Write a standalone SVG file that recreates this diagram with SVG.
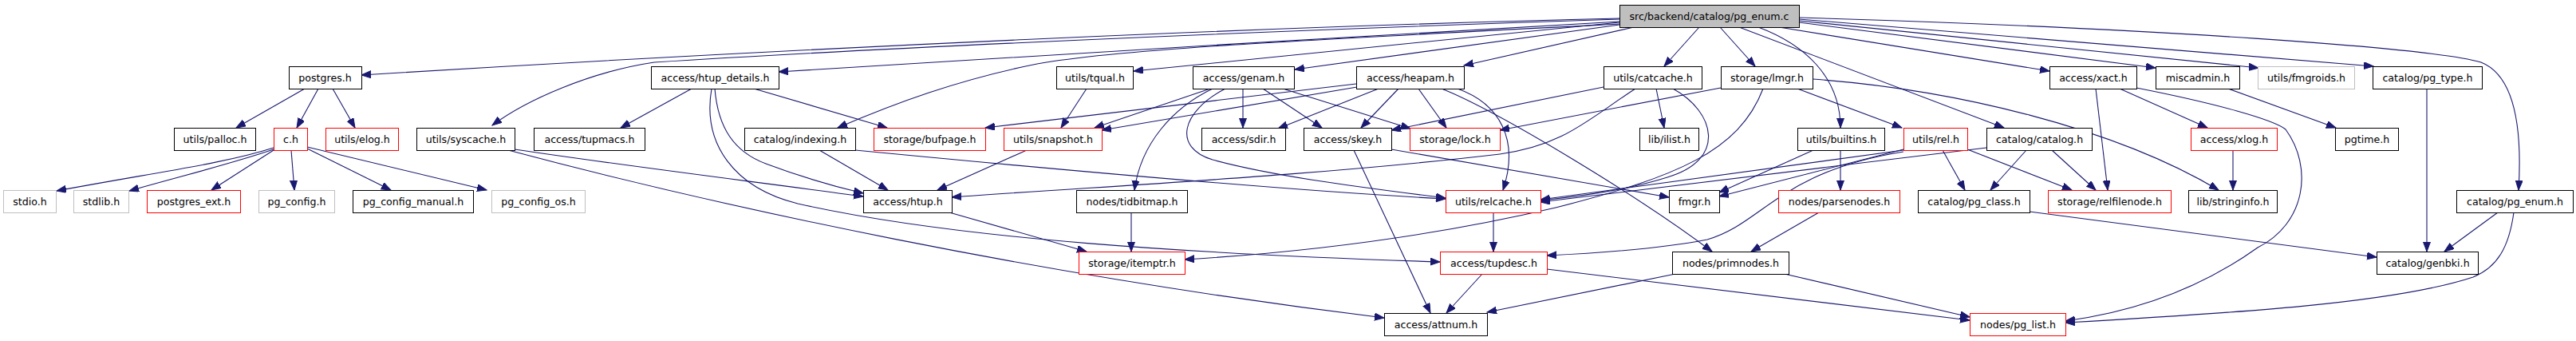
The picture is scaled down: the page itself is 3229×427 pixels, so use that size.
<svg xmlns="http://www.w3.org/2000/svg" width="3229" height="427" viewBox="0 0 3229 427">
<style>
.node rect{fill:#fff;stroke:#000;stroke-width:1}
.node.red rect{stroke:#ff0000}
.node.gray rect{stroke:#bfbfbf}
.node.root rect{fill:#bfbfbf;stroke:#000}
.node text{font-family:"DejaVu Sans",sans-serif;font-size:12.6px;fill:#000;text-anchor:middle}
#edges path{fill:none;stroke:#191970;stroke-width:1.1;marker-end:url(#arr)}
</style>
<defs>
<marker id="arr" markerUnits="userSpaceOnUse" markerWidth="14" markerHeight="11" refX="12" refY="4.5" orient="auto">
<path d="M0,0 L12,4.5 L0,9 Z" fill="#191970" stroke="#191970" stroke-width="1"/>
</marker>
</defs>
<rect width="3229" height="427" fill="#fff"/>
<g id="edges">
<!-- root -->
<path d="M2030,23 C1600,33 1000,60 453,94"/>
<path d="M2030,24 C1600,38 1100,60 820,78 C740,90 660,125 617,157"/>
<path d="M2030,27 C1700,45 1300,70 976,90"/>
<path d="M2030,30 C1600,52 1400,62 1300,80 C1200,100 1120,130 1050,160"/>
<path d="M2030,28 L1421,89"/>
<path d="M2030,31 L1623,87"/>
<path d="M2048,34 L1835,82"/>
<path d="M2130,34 L2086,83"/>
<path d="M2156,34 L2200,83"/>
<path d="M2204,34 C2260,55 2307,95 2307,160"/>
<path d="M2180,34 L2512,160"/>
<path d="M2230,34 L2569,89"/>
<path d="M2255,28 L2702,85"/>
<path d="M2255,26 L2831,85"/>
<path d="M2255,24 L2975,83"/>
<path d="M2255,22 C2700,35 3050,60 3110,78 C3145,92 3163,140 3157,238"/>
<!-- postgres.h -->
<path d="M382,111 L296,160"/>
<path d="M399,111 L372,160"/>
<path d="M417,111 L445,160"/>
<!-- c.h -->
<path d="M343,185 C280,205 200,215 71,239"/>
<path d="M343,187 C290,205 240,217 162,239"/>
<path d="M343,188 L265,238"/>
<path d="M365,188 L369,238"/>
<path d="M385,186 L490,238"/>
<path d="M385,184 L610,238"/>
<!-- syscache -->
<path d="M645,187 C800,210 950,228 1082,246"/>
<path d="M637,188 C900,258 1300,345 1735,398"/>
<!-- htup_details -->
<path d="M867,111 L778,160"/>
<path d="M896,111 C900,160 920,190 960,205 C1000,220 1040,232 1082,242"/>
<path d="M892,111 C880,180 920,235 1000,255 C1200,300 1500,318 1805,328"/>
<path d="M945,111 L1112,160"/>
<!-- indexing -->
<path d="M1027,188 L1113,238"/>
<path d="M1072,188 C1300,210 1600,238 1812,249"/>
<!-- tqual -->
<path d="M1362,111 L1330,160"/>
<!-- genam -->
<path d="M1517,111 L1372,160"/>
<path d="M1520,111 C1470,135 1430,180 1422,238"/>
<path d="M1536,111 C1480,140 1470,185 1520,200 C1600,222 1720,236 1812,248"/>
<path d="M1558,111 L1558,160"/>
<path d="M1583,111 L1657,160"/>
<path d="M1608,111 L1768,161"/>
<!-- heapam -->
<path d="M1700,105 L1235,160"/>
<path d="M1701,109 L1381,163"/>
<path d="M1728,111 L1602,161"/>
<path d="M1753,111 L1706,160"/>
<path d="M1778,111 L1813,160"/>
<path d="M1827,111 C1880,130 1905,175 1884,238"/>
<path d="M1807,111 C1880,140 2060,250 2146,315"/>
<!-- catcache -->
<path d="M2076,111 L2086,160"/>
<path d="M2010,109 L1744,163"/>
<path d="M2050,111 C1990,150 1960,182 1880,193 C1650,220 1400,232 1193,247"/>
<path d="M2097,111 C2150,140 2165,200 2090,222 C2040,238 1980,246 1931,251"/>
<!-- lmgr -->
<path d="M2157,110 L1880,163"/>
<path d="M2210,111 C2180,190 2100,222 1950,260 C1800,295 1650,315 1485,325"/>
<path d="M2253,111 L2384,160"/>
<path d="M2272,99 C2450,112 2650,160 2781,238"/>
<!-- builtins -->
<path d="M2273,188 L2155,241"/>
<path d="M2307,188 L2307,238"/>
<!-- rel.h -->
<path d="M2386,187 L2155,246"/>
<path d="M2386,188 L1931,250"/>
<path d="M2386,190 C2230,215 2210,280 2140,300 C2080,312 2000,317 1939,320"/>
<path d="M2435,188 L2463,238"/>
<path d="M2466,187 L2597,238"/>
<!-- catalog.h -->
<path d="M2540,188 L2495,238"/>
<path d="M2572,188 L2627,238"/>
<path d="M2490,185 L1931,253"/>
<!-- xact -->
<path d="M2627,111 L2642,238"/>
<path d="M2657,111 L2767,160"/>
<path d="M2678,110 C2780,130 2850,150 2865,162 C2900,210 2890,280 2830,310 C2760,360 2680,390 2589,402"/>
<!-- miscadmin -->
<path d="M2793,111 L2928,160"/>
<!-- xlog -->
<path d="M2799,188 L2799,238"/>
<!-- pg_class -->
<path d="M2544,265 L2979,322"/>
<!-- pg_type -->
<path d="M3042,111 L3042,315"/>
<!-- pg_enum.h -->
<path d="M3131,266 L3064,315"/>
<path d="M3151,266 C3145,310 3130,335 3100,347 C3000,380 2800,392 2589,404"/>
<!-- parsenodes -->
<path d="M2280,266 L2195,315"/>
<!-- tidbitmap -->
<path d="M1418,266 L1418,315"/>
<!-- htup -->
<path d="M1190,266 L1362,315"/>
<!-- snapshot -->
<path d="M1287,188 L1175,238"/>
<!-- skey -->
<path d="M1697,188 L1793,392"/>
<path d="M1744,187 L2092,247"/>
<!-- relcache -->
<path d="M1872,266 L1872,315"/>
<!-- tupdesc -->
<path d="M1858,343 L1813,392"/>
<path d="M1939,337 L2469,401"/>
<!-- primnodes -->
<path d="M2100,343 L1864,391"/>
<path d="M2237,343 L2469,397"/>
</g>
<g id="n_root" class="node root"><rect x="2030.5" y="6.5" width="225" height="28"/><text x="2142.5" y="25">src/backend/catalog/pg_enum.c</text></g>
<g id="n_postgres_h" class="node"><rect x="362.5" y="83.5" width="91" height="28"/><text x="407.5" y="102">postgres.h</text></g>
<g id="n_utils_palloc_h" class="node"><rect x="218.5" y="160.5" width="102" height="28"/><text x="269.5" y="179">utils/palloc.h</text></g>
<g id="n_c_h" class="node red"><rect x="343.5" y="160.5" width="42" height="28"/><text x="364.5" y="179">c.h</text></g>
<g id="n_utils_elog_h" class="node red"><rect x="408.5" y="160.5" width="91" height="28"/><text x="454" y="179">utils/elog.h</text></g>
<g id="n_stdio_h" class="node gray"><rect x="4.5" y="238.5" width="66" height="28"/><text x="37.5" y="257">stdio.h</text></g>
<g id="n_stdlib_h" class="node gray"><rect x="92.5" y="238.5" width="69" height="28"/><text x="127" y="257">stdlib.h</text></g>
<g id="n_postgres_ext_h" class="node red"><rect x="184.5" y="238.5" width="117" height="28"/><text x="243" y="257">postgres_ext.h</text></g>
<g id="n_pg_config_h" class="node gray"><rect x="324.5" y="238.5" width="95" height="28"/><text x="372" y="257">pg_config.h</text></g>
<g id="n_pg_config_manual_h" class="node"><rect x="442.5" y="238.5" width="151" height="28"/><text x="518" y="257">pg_config_manual.h</text></g>
<g id="n_pg_config_os_h" class="node gray"><rect x="616.5" y="238.5" width="117" height="28"/><text x="675" y="257">pg_config_os.h</text></g>
<g id="n_utils_syscache_h" class="node"><rect x="522.5" y="160.5" width="123" height="28"/><text x="584" y="179">utils/syscache.h</text></g>
<g id="n_access_tupmacs_h" class="node"><rect x="669.5" y="160.5" width="139" height="28"/><text x="739" y="179">access/tupmacs.h</text></g>
<g id="n_access_htup_details_h" class="node"><rect x="816.5" y="83.5" width="160" height="28"/><text x="896.5" y="102">access/htup_details.h</text></g>
<g id="n_catalog_indexing_h" class="node"><rect x="933.5" y="160.5" width="139" height="28"/><text x="1003" y="179">catalog/indexing.h</text></g>
<g id="n_storage_bufpage_h" class="node red"><rect x="1095.5" y="160.5" width="140" height="28"/><text x="1165.5" y="179">storage/bufpage.h</text></g>
<g id="n_access_htup_h" class="node"><rect x="1082.5" y="238.5" width="111" height="28"/><text x="1138" y="257">access/htup.h</text></g>
<g id="n_utils_tqual_h" class="node"><rect x="1324.5" y="83.5" width="96" height="28"/><text x="1372.5" y="102">utils/tqual.h</text></g>
<g id="n_access_genam_h" class="node"><rect x="1495.5" y="83.5" width="127" height="28"/><text x="1559" y="102">access/genam.h</text></g>
<g id="n_utils_snapshot_h" class="node red"><rect x="1258.5" y="160.5" width="123" height="28"/><text x="1320" y="179">utils/snapshot.h</text></g>
<g id="n_access_sdir_h" class="node"><rect x="1506.5" y="160.5" width="105" height="28"/><text x="1559" y="179">access/sdir.h</text></g>
<g id="n_nodes_tidbitmap_h" class="node"><rect x="1349.5" y="238.5" width="139" height="28"/><text x="1419" y="257">nodes/tidbitmap.h</text></g>
<g id="n_storage_itemptr_h" class="node red"><rect x="1352.5" y="315.5" width="133" height="28"/><text x="1419" y="334">storage/itemptr.h</text></g>
<g id="n_access_heapam_h" class="node"><rect x="1700.5" y="83.5" width="135" height="28"/><text x="1768" y="102">access/heapam.h</text></g>
<g id="n_access_skey_h" class="node"><rect x="1634.5" y="160.5" width="110" height="28"/><text x="1689.5" y="179">access/skey.h</text></g>
<g id="n_storage_lock_h" class="node red"><rect x="1767.5" y="160.5" width="113" height="28"/><text x="1824" y="179">storage/lock.h</text></g>
<g id="n_utils_relcache_h" class="node red"><rect x="1812.5" y="238.5" width="119" height="28"/><text x="1872" y="257">utils/relcache.h</text></g>
<g id="n_access_tupdesc_h" class="node red"><rect x="1805.5" y="315.5" width="134" height="28"/><text x="1872.5" y="334">access/tupdesc.h</text></g>
<g id="n_access_attnum_h" class="node"><rect x="1735.5" y="392.5" width="129" height="28"/><text x="1800" y="411">access/attnum.h</text></g>
<g id="n_utils_catcache_h" class="node"><rect x="2010.5" y="83.5" width="123" height="28"/><text x="2072" y="102">utils/catcache.h</text></g>
<g id="n_storage_lmgr_h" class="node"><rect x="2157.5" y="83.5" width="115" height="28"/><text x="2215" y="102">storage/lmgr.h</text></g>
<g id="n_lib_ilist_h" class="node"><rect x="2055.5" y="160.5" width="74" height="28"/><text x="2092.5" y="179">lib/ilist.h</text></g>
<g id="n_utils_builtins_h" class="node"><rect x="2253.5" y="160.5" width="109" height="28"/><text x="2308" y="179">utils/builtins.h</text></g>
<g id="n_utils_rel_h" class="node red"><rect x="2386.5" y="160.5" width="80" height="28"/><text x="2426.5" y="179">utils/rel.h</text></g>
<g id="n_fmgr_h" class="node"><rect x="2092.5" y="238.5" width="63" height="28"/><text x="2124" y="257">fmgr.h</text></g>
<g id="n_nodes_parsenodes_h" class="node red"><rect x="2229.5" y="238.5" width="152" height="28"/><text x="2305.5" y="257">nodes/parsenodes.h</text></g>
<g id="n_catalog_pg_class_h" class="node"><rect x="2404.5" y="238.5" width="140" height="28"/><text x="2474.5" y="257">catalog/pg_class.h</text></g>
<g id="n_nodes_primnodes_h" class="node"><rect x="2096.5" y="315.5" width="146" height="28"/><text x="2169.5" y="334">nodes/primnodes.h</text></g>
<g id="n_access_xact_h" class="node"><rect x="2569.5" y="83.5" width="109" height="28"/><text x="2624" y="102">access/xact.h</text></g>
<g id="n_miscadmin_h" class="node"><rect x="2702.5" y="83.5" width="105" height="28"/><text x="2755" y="102">miscadmin.h</text></g>
<g id="n_catalog_catalog_h" class="node"><rect x="2490.5" y="160.5" width="132" height="28"/><text x="2556.5" y="179">catalog/catalog.h</text></g>
<g id="n_access_xlog_h" class="node red"><rect x="2746.5" y="160.5" width="108" height="28"/><text x="2800.5" y="179">access/xlog.h</text></g>
<g id="n_storage_relfilenode_h" class="node red"><rect x="2567.5" y="238.5" width="154" height="28"/><text x="2644.5" y="257">storage/relfilenode.h</text></g>
<g id="n_lib_stringinfo_h" class="node"><rect x="2743.5" y="238.5" width="111" height="28"/><text x="2799" y="257">lib/stringinfo.h</text></g>
<g id="n_nodes_pg_list_h" class="node red"><rect x="2469.5" y="392.5" width="120" height="28"/><text x="2529.5" y="411">nodes/pg_list.h</text></g>
<g id="n_utils_fmgroids_h" class="node gray"><rect x="2830.5" y="83.5" width="121" height="28"/><text x="2891" y="102">utils/fmgroids.h</text></g>
<g id="n_catalog_pg_type_h" class="node"><rect x="2974.5" y="83.5" width="137" height="28"/><text x="3043" y="102">catalog/pg_type.h</text></g>
<g id="n_pgtime_h" class="node"><rect x="2927.5" y="160.5" width="79" height="28"/><text x="2967" y="179">pgtime.h</text></g>
<g id="n_catalog_pg_enum_h" class="node"><rect x="3079.5" y="238.5" width="146" height="28"/><text x="3152.5" y="257">catalog/pg_enum.h</text></g>
<g id="n_catalog_genbki_h" class="node"><rect x="2979.5" y="315.5" width="127" height="28"/><text x="3043" y="334">catalog/genbki.h</text></g>
</svg>
